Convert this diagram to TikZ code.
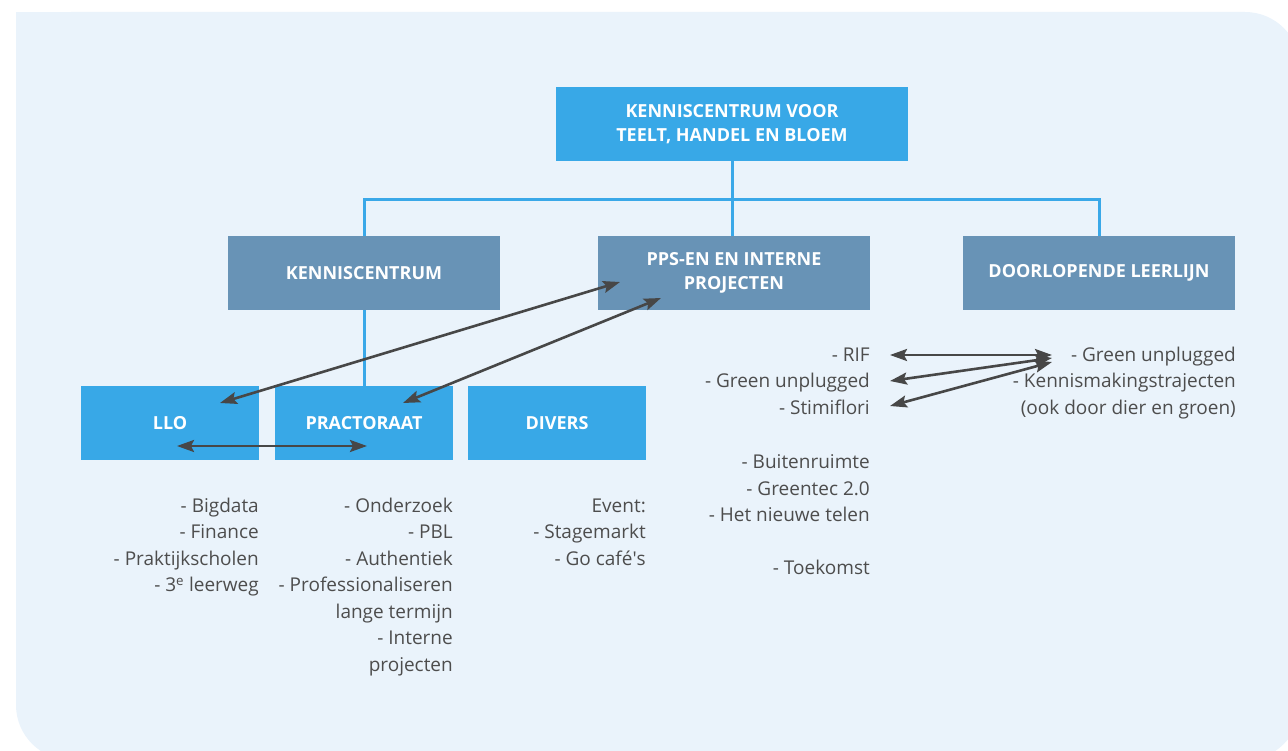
\documentclass[tikz,border=0pt]{standalone}
\usepackage{fontspec}
\setmainfont{Open Sans}
\usetikzlibrary{arrows.meta}
\definecolor{bgc}{HTML}{EAF3FB}
\definecolor{bluec}{HTML}{38A8E7}
\definecolor{grayc}{HTML}{6893B6}
\definecolor{linec}{HTML}{3AA8E8}
\definecolor{txtc}{HTML}{4D4D4D}
\definecolor{arrc}{HTML}{474747}
\tikzset{
  boxbase/.style={minimum height=74pt, inner sep=0pt, text=white, align=center,
    font=\bfseries\fontsize{18}{24}\selectfont},
  topbox/.style={boxbase, fill=bluec, minimum width=352pt},
  midbox/.style={boxbase, fill=grayc, minimum width=272pt},
  lowbox/.style={boxbase, fill=bluec, minimum width=178pt},
  listtxt/.style={anchor=north east, inner sep=0pt, align=right, text=txtc,
    font=\fontsize{19}{26.5}\selectfont},
  conn/.style={draw=linec, line width=3pt},
  biarrow/.style={draw=arrc, line width=2.6pt,
    {Stealth[length=17pt,width=12pt,inset=3pt]}-{Stealth[length=17pt,width=12pt,inset=3pt]}}
}
\begin{document}
\begin{tikzpicture}[x=1pt,y=-1pt]
\useasboundingbox (0,0) rectangle (1288,751);
\fill[bgc, rounded corners=55pt] (16,12) rectangle (1300,760);
\fill[bgc] (16,12) rectangle (120,120);

\node[topbox] (top) at (732,124) {KENNISCENTRUM VOOR\\TEELT, HANDEL EN BLOEM};
\node[midbox] (kc) at (364,273) {KENNISCENTRUM};
\node[midbox] (pps) at (734,273) {PPS-EN EN INTERNE\\PROJECTEN};
\node[midbox] (dl) at (1099,273) {DOORLOPENDE LEERLIJN};
\node[lowbox] (llo) at (170,423) {LLO};
\node[lowbox] (pr) at (364,423) {PRACTORAAT};
\node[lowbox] (dv) at (557,423) {DIVERS};

\coordinate (hub) at (732,200);
\draw[conn] (top.south) -- (hub);
\draw[conn] (kc.north) |- (hub) -| (dl.north);
\draw[conn] (hub) -- (pps.north -| hub);
\draw[conn] (kc.south) -- (pr.north);

% lists
\node[listtxt] (l1) at (259,497.6) {- Bigdata\\- Finance\\- Praktijkscholen\\- 3\textsuperscript{e} leerweg};
\node[listtxt] (l2) at (453,497.6) {- Onderzoek\\- PBL\\- Authentiek\\- Professionaliseren\\lange termijn\\- Interne\\projecten};
\node[listtxt] (l3) at (646,498.4) {Event:\\- Stagemarkt\\- Go café\textquotesingle s};
\node[listtxt] (l4) at (870,347.4) {- RIF\\- Green unplugged\\- Stimiflori};
\node[listtxt] (l5) at (870,454.6) {- Buitenruimte\\- Greentec 2.0\\- Het nieuwe telen\\\\- Toekomst};
\node[listtxt] (l6) at (1236,346.6) {- Green unplugged\\- Kennismakingstrajecten\\(ook door dier en groen)};

% arrows
\coordinate (a1) at (220,403);
\coordinate (a2) at (620,282);
\coordinate (b1) at (403,403);
\coordinate (b2) at (661,298);
\coordinate (c1) at (177,446);
\coordinate (c2) at (367,446);
\draw[biarrow] (a1) -- (a2);
\draw[biarrow] (b1) -- (b2);
\draw[biarrow] (c1) -- (c2);

\coordinate (r1) at (890,355);
\coordinate (r2) at (890,381);
\coordinate (r3) at (890,406);
\coordinate (g1) at (1052,355);
\coordinate (g2) at (1052,358);
\coordinate (g3) at (1052,362);
\draw[biarrow] (r1) -- (g1);
\draw[biarrow] (r2) -- (g2);
\draw[biarrow] (r3) -- (g3);
\end{tikzpicture}
\end{document}
